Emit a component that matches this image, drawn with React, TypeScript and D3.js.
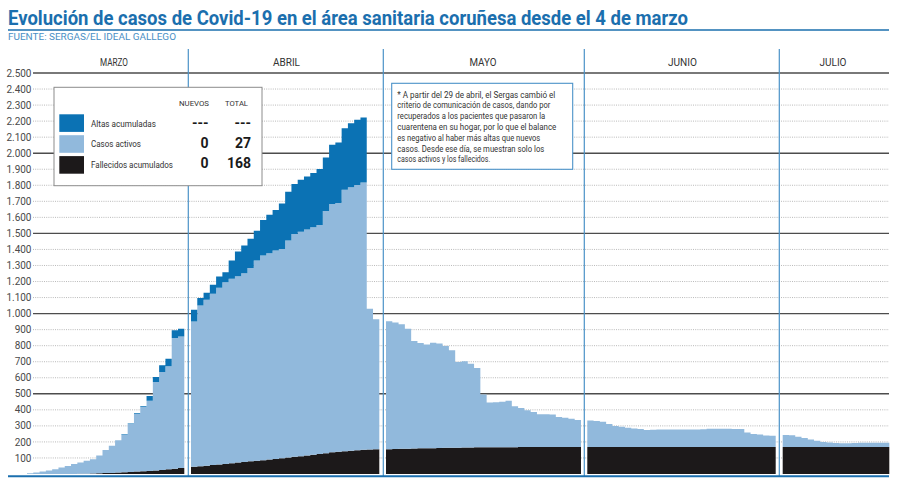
import React from "react";
import * as d3 from "d3";

const title = "Evolución de casos de Covid-19 en el área sanitaria coruñesa desde el 4 de marzo";
const source = "FUENTE: SERGAS/EL IDEAL GALLEGO";
const months = ["MARZO", "ABRIL", "MAYO", "JUNIO", "JULIO"];

const marzoFallecidos = [0, 0, 0, 0, 0, 0, 0, 0, 1, 2, 3, 4, 6, 7, 9, 11, 13, 15, 17, 19, 22, 25, 29, 33, 38];
const marzoActivos = [5, 10, 16, 22, 30, 40, 50, 62, 71, 80, 89, 111, 143, 169, 202, 235, 299, 359, 401, 437, 552, 611, 643, 815, 820];
const marzoAltas = [0, 0, 0, 0, 0, 0, 0, 0, 0, 0, 0, 0, 0, 0, 0, 3, 3, 4, 5, 31, 31, 42, 47, 48, 48];

const abrilFallecidos = [45, 48, 52, 56, 60, 63, 67, 71, 75, 79, 83, 86, 90, 94, 98, 103, 107, 111, 115, 120, 125, 130, 135, 139, 142, 145, 148, 151, 153, 155];
const abrilActivos = [906, 1003, 1034, 1068, 1101, 1133, 1150, 1162, 1177, 1206, 1248, 1276, 1286, 1299, 1305, 1352, 1390, 1400, 1409, 1418, 1428, 1510, 1548, 1551, 1630, 1642, 1653, 1667, 877, 810];
const abrilAltas = [73, 46, 44, 56, 70, 62, 114, 154, 172, 181, 186, 222, 241, 253, 284, 305, 311, 324, 331, 338, 348, 333, 369, 377, 384, 400, 407, 404, 0, 0];

const mayoFallecidos = [155, 156, 157, 158, 159, 160, 161, 161, 162, 163, 163, 164, 165, 165, 166, 166, 166, 167, 167, 167, 167, 168, 168, 168, 168, 168, 168, 168, 168, 168, 168];
const mayoActivos = [798, 789, 776, 748, 670, 657, 647, 658, 651, 635, 608, 534, 538, 523, 495, 330, 280, 281, 283, 289, 256, 244, 230, 218, 205, 205, 203, 188, 182, 176, 168];

const junioFallecidos = [168, 168, 168, 168, 168, 168, 168, 168, 168, 168, 168, 168, 168, 168, 168, 168, 168, 168, 168, 168, 168, 168, 168, 168, 168, 168, 168, 168, 168, 168];
const junioActivos = [165, 163, 157, 143, 132, 126, 120, 116, 112, 106, 108, 109, 109, 110, 110, 110, 110, 110, 111, 114, 114, 114, 114, 113, 113, 90, 82, 79, 72, 70];

const julioFallecidos = [168, 168, 168, 168, 168, 168, 168, 168, 168, 168, 168, 168, 168, 168, 168, 168, 168];
const julioActivos = [75, 74, 65, 57, 47, 40, 32, 28, 25, 23, 24, 26, 27, 27, 27, 27, 27];

const legendLabels = ["Altas acumuladas", "Casos activos", "Fallecidos acumulados"];
const legendHeaders = ["NUEVOS", "TOTAL"];
const legendNuevos = ["---", "0", "0"];
const legendTotal = ["---", "27", "168"];

const noteLines = [
  "* A partir del 29 de abril, el Sergas cambió el",
  "criterio de comunicación de casos, dando por",
  "recuperados a los pacientes que pasaron la",
  "cuarentena en su hogar, por lo que el balance",
  "es negativo al haber más altas que nuevos",
  "casos. Desde ese día, se muestran solo los",
  "casos activos y los fallecidos.",
];

const C_ALTAS = "#0b72b4";
const C_ACT = "#91b9dc";
const C_FALL = "#1c191a";
const BLUE = "#1b6fae";
const SEP = "#4b92c8";

type Row = { f: number; a: number; al: number };

export default function App() {
  const W = 900;
  const H = 486;
  const y = d3.scaleLinear().domain([0, 2500]).range([474, 73]);
  const fmt = d3
    .formatLocale({ decimal: ",", thousands: ".", grouping: [3], currency: ["", "€"] })
    .format(",d");
  const ticks = y.ticks(25).filter((t) => t > 0);

  const monthRanges: [number, number][] = [
    [27, 184.3],
    [191, 379.3],
    [386, 581],
    [587.3, 775.7],
    [782.7, 889.3],
  ];
  const monthCenters = [114, 286.5, 483, 682.5, 833];
  const monthWidths = [28, 27, 27, 29, 27];
  const seps = [188.3, 383.3, 584.3, 779.3];

  const series = [
    { f: marzoFallecidos, a: marzoActivos, al: marzoAltas },
    { f: abrilFallecidos, a: abrilActivos, al: abrilAltas },
    { f: mayoFallecidos, a: mayoActivos, al: [] as number[] },
    { f: junioFallecidos, a: junioActivos, al: [] as number[] },
    { f: julioFallecidos, a: julioActivos, al: [] as number[] },
  ];

  const keys: (keyof Row)[] = ["f", "a", "al"];
  const colors = [C_FALL, C_ACT, C_ALTAS];
  const stack = d3.stack<Row>().keys(keys as string[]);

  const areas: JSX.Element[] = [];
  series.forEach((s, i) => {
    const rows: Row[] = s.f.map((f, j) => ({ f, a: s.a[j], al: s.al[j] ?? 0 }));
    const n = rows.length;
    const xb = d3.scaleBand<number>().domain(d3.range(n)).range(monthRanges[i]).padding(0);
    // sentinel row closes the last step at the month's right edge
    const rowsExt = [...rows, rows[n - 1]];
    const layers = stack(rowsExt);
    const xAt = (j: number) => (j < n ? xb(j)! : monthRanges[i][1]);
    const area = d3
      .area<d3.SeriesPoint<Row>>()
      .x((_, j) => xAt(j))
      .y0((d) => y(d[0]))
      .y1((d) => y(d[1]))
      .curve(d3.curveStepAfter);
    layers.forEach((layer, k) => {
      areas.push(<path key={`m${i}-${k}`} d={area(layer) || ""} fill={colors[k]} />);
    });
  });

  const noteW = [158, 153, 148, 159, 143, 147, 93];
  const legLabelW = [65, 50, 82];
  const swatch = [C_ALTAS, C_ACT, C_FALL];

  return (
    <svg
      width={W}
      height={H}
      style={{ position: "absolute", left: 0, top: 0, background: "#fff" }}
      fontFamily="Roboto, 'Liberation Sans', Arial, sans-serif"
    >
      <rect width={W} height={H} fill="#fff" />
      {/* title */}
      <text x={8} y={24.5} fontSize={20} fontWeight={700} fill={BLUE} textLength={680} lengthAdjust="spacingAndGlyphs">
        {title}
      </text>
      <line x1={8} x2={889} y1={30} y2={30} stroke={BLUE} strokeWidth={1.6} />
      <text x={8} y={39.5} fontSize={9.5} fill="#4a8fc5" textLength={168} lengthAdjust="spacingAndGlyphs">
        {source}
      </text>

      {/* grid */}
      {ticks.map((t) =>
        t % 500 === 0 ? (
          <line key={`g${t}`} x1={33} x2={889} y1={y(t)} y2={y(t)} stroke="#4d4d4d" strokeWidth={1.4} />
        ) : (
          <line
            key={`g${t}`}
            x1={33}
            x2={889}
            y1={y(t)}
            y2={y(t)}
            stroke="#a8a8a8"
            strokeWidth={0.8}
            strokeDasharray="1 1.2"
          />
        )
      )}
      {ticks.map((t) => (
        <text key={`t${t}`} x={31.5} y={y(t) + 3.6} fontSize={10} fill="#4a4a4a" textAnchor="end">
          {fmt(t)}
        </text>
      ))}

      {/* stacked step areas */}
      {areas}

      {/* separators */}
      {seps.map((sx, i) => (
        <line key={`s${i}`} x1={sx} x2={sx} y1={49} y2={476} stroke={SEP} strokeWidth={1.2} />
      ))}
      <line x1={8} x2={889} y1={476.2} y2={476.2} stroke={BLUE} strokeWidth={2} />

      {/* month labels */}
      {months.map((m, i) => (
        <text
          key={m}
          x={monthCenters[i] - monthWidths[i] / 2}
          y={66}
          fontSize={11.5}
          fill="#333"
          textLength={monthWidths[i]}
          lengthAdjust="spacingAndGlyphs"
        >
          {m}
        </text>
      ))}

      {/* legend */}
      <rect x={54} y={87.3} width={208} height={98.4} fill="#fff" stroke="#8c8c8c" strokeWidth={1} />
      <text x={179} y={105.5} fontSize={8} fill="#333" textLength={30} lengthAdjust="spacingAndGlyphs">
        {legendHeaders[0]}
      </text>
      <text x={225} y={105.5} fontSize={8} fill="#333" textLength={23} lengthAdjust="spacingAndGlyphs">
        {legendHeaders[1]}
      </text>
      {legendLabels.map((l, i) => (
        <g key={l}>
          <rect x={59.3} y={114.3 + i * 20.9} width={24.7} height={17.6} fill={swatch[i]} />
          <text
            x={91}
            y={127 + i * 20.3}
            fontSize={9.5}
            fill="#333"
            textLength={legLabelW[i]}
            lengthAdjust="spacingAndGlyphs"
          >
            {l}
          </text>
          <text x={208.5} y={i === 0 ? 127.5 : 127.8 + i * 20.3} fontSize={14} fontWeight={700} fill="#1a1a1a" textAnchor="end">
            {legendNuevos[i]}
          </text>
          <text x={251} y={i === 0 ? 127.5 : 127.8 + i * 20.3} fontSize={14} fontWeight={700} fill="#1a1a1a" textAnchor="end">
            {legendTotal[i]}
          </text>
        </g>
      ))}

      {/* note */}
      <rect x={391.7} y={83.3} width={181} height={86} fill="#fff" stroke={SEP} strokeWidth={1.1} />
      {noteLines.map((l, i) => (
        <text
          key={i}
          x={397.3}
          y={97.5 + i * 10.83}
          fontSize={8.8}
          fill="#333"
          textLength={noteW[i]}
          lengthAdjust="spacingAndGlyphs"
        >
          {l}
        </text>
      ))}
    </svg>
  );
}
